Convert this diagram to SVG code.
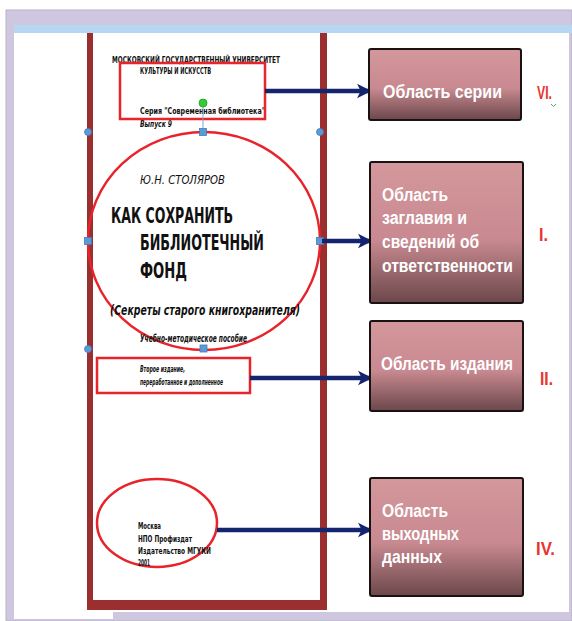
<svg xmlns="http://www.w3.org/2000/svg" width="572" height="621" viewBox="0 0 572 621">
<defs>
<linearGradient id="boxg" x1="0" y1="0" x2="0" y2="1">
<stop offset="0" stop-color="#d4979c"/>
<stop offset="0.55" stop-color="#c88a90"/>
<stop offset="1" stop-color="#6b474b"/>
</linearGradient>
<marker id="ah" viewBox="0 0 10 10" refX="9" refY="5" markerWidth="3.2" markerHeight="3.6" orient="auto" markerUnits="strokeWidth">
<path d="M0,0 L10,5 L0,10 L2.5,5 Z" fill="#14246e"/>
</marker>
<style>
.box{fill:url(#boxg);stroke:#1a1212;stroke-width:2}
.bt{font-family:"Liberation Sans",Arial,sans-serif;font-weight:bold;font-size:18px;fill:#ffffff}
.num{font-family:"Liberation Sans",Arial,sans-serif;font-weight:bold;font-size:19px;fill:#e8352f}
.conn{stroke:#14246e;stroke-width:4.5;fill:none;marker-end:url(#ah)}
.hl{fill:none;stroke:#e8232a;stroke-width:2.5}
.bk{font-family:"DejaVu Sans",sans-serif;fill:#111}
.hc{fill:#5b9bd5;stroke:#3f7fbf;stroke-width:0.8}
</style>
</defs>
<!-- window frame -->
<rect x="0" y="0" width="572" height="621" fill="#ffffff"/>
<rect x="6" y="10" width="566" height="611" fill="#cfc6e0" stroke="#b9b3c4" stroke-width="1"/>
<rect x="14" y="25" width="558" height="8" fill="#b7d6f2"/>
<rect x="14" y="33" width="555" height="579" fill="#ffffff"/>
<rect x="14" y="600" width="99" height="19" fill="#ffffff"/>

<g id="book">
<rect x="87" y="33" width="6" height="577" fill="#9b2f2f"/>
<rect x="320" y="33" width="7" height="577" fill="#9b2f2f"/>
<rect x="87" y="600" width="240" height="10" fill="#9b2f2f"/>
</g>

<g id="series-area">
<text class="bk" x="112" y="63" font-size="8" font-weight="bold" textLength="168" lengthAdjust="spacingAndGlyphs">МОСКОВСКИЙ ГОСУДАРСТВЕННЫЙ УНИВЕРСИТЕТ</text>
<text class="bk" x="140" y="74" font-size="8" font-weight="bold" textLength="71" lengthAdjust="spacingAndGlyphs">КУЛЬТУРЫ И ИСКУССТВ</text>
<text class="bk" x="140" y="114" font-size="9" font-weight="bold" textLength="125" lengthAdjust="spacingAndGlyphs">Серия "Современная библиотека"</text>
<text class="bk" x="140" y="127" font-size="8" font-weight="bold" font-style="italic" textLength="32" lengthAdjust="spacingAndGlyphs">Выпуск 9</text>
<rect class="hl" x="120" y="63" width="145" height="56"/>
</g>

<g id="title-area">
<ellipse class="hl" cx="204" cy="241" rx="116" ry="109"/>
<text class="bk" x="140" y="184" font-size="13" font-style="italic" textLength="85" lengthAdjust="spacingAndGlyphs">Ю.Н. СТОЛЯРОВ</text>
<text class="bk" x="111" y="223" font-size="21" font-weight="bold" textLength="122" lengthAdjust="spacingAndGlyphs">КАК СОХРАНИТЬ</text>
<text class="bk" x="140" y="250" font-size="21" font-weight="bold" textLength="124" lengthAdjust="spacingAndGlyphs">БИБЛИОТЕЧНЫЙ</text>
<text class="bk" x="140" y="278" font-size="21" font-weight="bold" textLength="47" lengthAdjust="spacingAndGlyphs">ФОНД</text>
<text class="bk" x="110" y="315" font-size="14" font-style="italic" font-weight="bold" textLength="190" lengthAdjust="spacingAndGlyphs">(Секреты старого книгохранителя)</text>
<text class="bk" x="140" y="342" font-size="10" font-style="italic" font-weight="bold" textLength="107" lengthAdjust="spacingAndGlyphs">Учебно-методическое пособие</text>
</g>

<g id="handles">
<line x1="203" y1="103" x2="203" y2="132" stroke="#7fa7d0" stroke-width="1"/>
<circle cx="203" cy="103" r="4" fill="#33cc33" stroke="#1f9f1f" stroke-width="0.8"/>
<circle class="hc" cx="88" cy="132" r="3.5"/>
<circle class="hc" cx="320" cy="132" r="3.5"/>
<rect class="hc" x="199.5" y="128.5" width="7" height="7"/>
<rect class="hc" x="84.5" y="237.5" width="7" height="7"/>
<rect class="hc" x="316.5" y="237.5" width="7" height="7"/>
<circle class="hc" cx="88" cy="349" r="3.5"/>
<rect class="hc" x="200" y="345" width="7" height="7"/>
</g>

<g id="edition-area">
<rect class="hl" x="97" y="358" width="153" height="35"/>
<text class="bk" x="140" y="372" font-size="8" font-style="italic" font-weight="bold" textLength="45" lengthAdjust="spacingAndGlyphs">Второе издание,</text>
<text class="bk" x="140" y="385" font-size="8" font-style="italic" font-weight="bold" textLength="83" lengthAdjust="spacingAndGlyphs">переработанное и дополненное</text>
</g>

<g id="imprint-area">
<ellipse class="hl" cx="157" cy="523" rx="60" ry="44"/>
<text class="bk" x="138" y="529" font-size="8" font-weight="bold" textLength="23" lengthAdjust="spacingAndGlyphs">Москва</text>
<text class="bk" x="138" y="542" font-size="8" font-weight="bold" textLength="54" lengthAdjust="spacingAndGlyphs">НПО Профиздат</text>
<text class="bk" x="138" y="554" font-size="8" font-weight="bold" textLength="73" lengthAdjust="spacingAndGlyphs">Издательство МГУКИ</text>
<text class="bk" x="138" y="566" font-size="8" font-weight="bold" textLength="12" lengthAdjust="spacingAndGlyphs">2001</text>
</g>

<g id="connectors">
<line class="conn" x1="265" y1="91" x2="370" y2="91"/>
<line class="conn" x1="322" y1="241" x2="371" y2="241"/>
<line class="conn" x1="250" y1="378" x2="371" y2="378"/>
<line class="conn" x1="217" y1="530" x2="371" y2="530"/>
</g>

<g id="box-series">
<rect class="box" x="369" y="49" width="152" height="71" rx="2"/>
<text class="bt" x="383" y="98" textLength="119" lengthAdjust="spacingAndGlyphs">Область серии</text>
<text class="num" x="537" y="99" textLength="15" lengthAdjust="spacingAndGlyphs">VI.</text>
<path d="M551,104 l2.5,2.5 l2.5,-2.5" fill="none" stroke="#4caf50" stroke-width="1"/>
</g>

<g id="box-title">
<rect class="box" x="370" y="162" width="153" height="141" rx="2"/>
<text class="bt" x="382" y="201" textLength="66" lengthAdjust="spacingAndGlyphs">Область</text>
<text class="bt" x="382" y="224" textLength="85" lengthAdjust="spacingAndGlyphs">заглавия и</text>
<text class="bt" x="382" y="248" textLength="97" lengthAdjust="spacingAndGlyphs">сведений об</text>
<text class="bt" x="382" y="272" textLength="131" lengthAdjust="spacingAndGlyphs">ответственности</text>
<text class="num" x="539" y="241" textLength="9" lengthAdjust="spacingAndGlyphs">I.</text>
</g>

<g id="box-edition">
<rect class="box" x="370" y="321" width="153" height="90" rx="2"/>
<text class="bt" x="381" y="370" textLength="132" lengthAdjust="spacingAndGlyphs">Область издания</text>
<text class="num" x="540" y="385" textLength="13" lengthAdjust="spacingAndGlyphs">II.</text>
</g>

<g id="box-imprint">
<rect class="box" x="370" y="478" width="153" height="118" rx="2"/>
<text class="bt" x="382" y="517" textLength="66" lengthAdjust="spacingAndGlyphs">Область</text>
<text class="bt" x="382" y="540" textLength="77" lengthAdjust="spacingAndGlyphs">выходных</text>
<text class="bt" x="382" y="563" textLength="60" lengthAdjust="spacingAndGlyphs">данных</text>
<text class="num" x="536" y="555" textLength="19" lengthAdjust="spacingAndGlyphs">IV.</text>
</g>
</svg>
